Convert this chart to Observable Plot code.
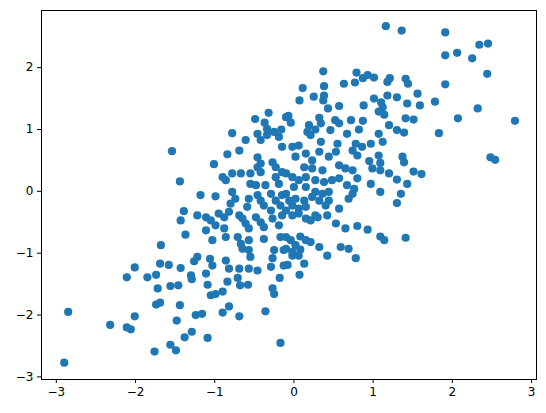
<!DOCTYPE html>
<html>
<head>
<meta charset="utf-8">
<script src="https://cdn.jsdelivr.net/npm/d3@7"></script>
<script src="https://cdn.jsdelivr.net/npm/@observablehq/plot@0.6"></script>
<style>
  html, body { margin: 0; padding: 0; background: #fff; }
  #chart { width: 546px; height: 413px; }
</style>
</head>
<body>
<div id="chart"></div>
<script>
const xValues = [
-2.01,-2.11,-1.85,-1.74,-1.69,-1.72,-1.74,-1.69,-2.85,-2.01,-2.32,-2.11,-2.06,-1.76,-2.90,
-1.68,-1.54,-1.44,-1.58,-1.43,-1.26,-1.22,-1.30,-1.29,-1.11,-1.06,-1.03,-0.86,-0.82,-0.69,
-0.57,-0.46,-0.55,-0.29,-0.27,-0.13,-0.18,-1.56,-1.46,-1.09,-0.84,-0.71,-0.68,-0.58,-0.27,
-0.25,-1.05,-0.99,-0.90,-1.44,-1.24,-1.16,-0.82,-0.90,-0.69,-0.36,-1.48,-1.38,-1.29,-1.09,
-1.56,-1.49,-0.17,-0.08,-0.02,0.06,0.13,0.07,0.42,0.78,
-0.78,-0.46,-0.42,-0.34,-0.25,-0.19,-0.61,-0.15,-0.84,-0.69,-0.46,-0.42,-0.46,-0.27,-0.23,
-1.01,-0.90,-0.86,-0.78,-0.67,-0.55,-0.42,-0.23,-0.15,-0.55,-0.48,-0.36,-0.19,-1.18,-0.99,
-0.78,-0.74,-0.57,-0.46,-0.42,-0.29,-0.23,-0.15,-0.80,-0.59,-0.38,-0.29,-0.17,-1.39,-1.43,
-1.22,-1.11,-1.05,-0.95,-0.88,-0.82,-0.69,-0.99,-0.88,-0.65,-0.61,-0.57,-0.48,-0.42,-0.38,
-0.27,-0.15,-0.19,-1.37,-1.11,-1.03,-0.86,-0.71,-0.67,-0.57,-0.38,-0.17,-0.65,-0.57,-0.25,
-0.13,
-0.49,-0.32,-0.37,-0.34,-0.10,-0.16,
1.16,1.36,0.37,0.79,0.93,0.87,1.01,0.63,0.77,1.21,1.18,1.41,1.44,0.11,0.38,0.38,0.25,0.37,
0.07,1.01,1.18,1.30,1.10,1.12,0.88,1.43,0.57,0.43,1.07,1.14,-0.07,-0.04,0.32,0.87,0.72,0.52,
1.41,0.19,0.34,0.57,1.20,1.30,1.39,0.17,0.46,0.67,0.82,1.07,0.27,
1.91,2.34,2.45,1.91,2.06,2.25,2.44,1.91,1.56,1.59,1.78,2.32,1.51,2.07,2.79,1.83,
2.48,2.54,1.51,1.61,
0.21,1.12,0.06,-0.02,0.34,0.55,0.78,0.86,0.97,0.74,0.80,1.07,1.37,1.39,0.95,1.09,0.02,0.15,
0.23,0.32,0.44,0.53,0.13,0.23,0.36,0.57,0.65,0.74,0.80,0.99,1.09,1.20,1.30,0.97,1.43,-0.10,
-0.02,0.06,0.15,0.27,0.38,0.48,0.57,0.67,0.00,0.15,0.27,0.36,0.44,0.76,0.74,1.09,1.35,-0.10,
-0.06,0.02,0.13,0.23,0.32,0.69,0.44,1.30,-0.02,0.06,0.15,0.40,0.57,-0.10,-0.02,0.06,0.15,
0.27,0.42,0.21,0.30,0.53,0.65,0.80,0.93,1.09,1.14,1.41,-0.10,-0.04,0.08,0.15,0.02,0.08,0.21,
0.32,-0.10,-0.02,0.59,0.69
];
const yValues = [
-1.23,-1.39,-1.39,-1.35,-1.17,-1.57,-1.83,-1.80,-1.95,-2.02,-2.16,-2.20,-2.23,-2.59,-2.77,
-0.87,0.65,0.16,-1.19,-1.24,-1.13,-1.06,-1.36,-1.42,-1.33,-1.09,-1.20,-1.12,-1.25,-1.25,
-1.25,-1.28,-1.06,-1.22,-1.08,-1.20,-1.40,-1.53,-1.52,-1.51,-1.46,-1.40,-1.52,-1.51,-1.57,
-1.66,-1.68,-1.66,-1.62,-1.84,-2.00,-1.98,-1.86,-1.96,-2.02,-1.94,-2.09,-2.36,-2.27,-2.37,
-2.48,-2.57,-2.45,-1.19,-1.04,-1.04,-1.17,-1.35,-1.04,-1.08,
0.94,0.93,0.83,0.91,0.96,0.88,0.83,0.72,0.60,0.66,0.55,0.45,0.39,0.47,0.39,
0.44,0.23,0.18,0.29,0.29,0.29,0.31,0.23,0.31,0.12,0.10,0.10,0.12,-0.06,-0.08,
-0.01,-0.12,-0.12,-0.06,-0.15,-0.04,-0.15,-0.06,-0.20,-0.25,-0.23,-0.31,-0.23,-0.32,-0.47,
-0.39,-0.42,-0.47,-0.36,-0.42,-0.33,-0.39,-0.55,-0.60,-0.44,-0.52,-0.60,-0.42,-0.50,-0.58,
-0.44,-0.39,-0.55,-0.70,-0.63,-0.79,-0.74,-0.74,-0.85,-0.79,-0.77,-0.74,-0.93,-0.95,-0.95,
-0.95,
1.17,1.27,1.11,1.01,1.20,1.00,
2.67,2.60,1.94,1.92,1.88,1.83,1.84,1.74,1.76,1.83,1.77,1.82,1.74,1.67,1.70,1.55,1.53,1.47,
1.47,1.50,1.55,1.52,1.44,1.36,1.39,1.42,1.38,1.34,1.29,1.24,1.22,1.11,1.19,1.14,1.15,1.15,
1.18,1.07,1.10,1.10,1.07,0.99,0.95,0.96,0.99,0.93,1.00,0.93,1.00,
2.57,2.37,2.39,2.20,2.24,2.15,1.90,1.73,1.58,1.39,1.45,1.34,1.16,1.18,1.14,0.94,
0.55,0.51,0.32,0.28,
0.91,0.80,0.74,0.72,0.80,0.77,0.77,0.72,0.77,0.66,0.58,0.58,0.56,0.47,0.49,0.46,0.56,0.61,
0.50,0.64,0.56,0.64,0.39,0.37,0.34,0.42,0.37,0.34,0.21,0.37,0.34,0.29,0.19,0.12,0.12,0.29,
0.23,0.18,0.23,0.18,0.15,0.18,0.21,0.10,0.07,0.07,-0.01,-0.04,-0.01,0.04,-0.04,-0.01,-0.04,-0.04,
-0.15,-0.12,-0.15,-0.09,-0.15,-0.12,-0.15,-0.19,-0.23,-0.28,-0.25,-0.23,-0.28,-0.31,-0.39,-0.36,-0.44,
-0.39,-0.39,-0.47,-0.42,-0.52,-0.60,-0.56,-0.62,-0.73,-0.79,-0.75,-0.74,-0.79,-0.73,-0.79,-0.87,-0.94,-0.82,
-0.90,-0.93,-0.98,-0.90,-0.93
];
const xTicks = [-3, -2, -1, 0, 1, 2, 3];
const yTicks = [-3, -2, -1, 0, 1, 2];

const points = xValues.map((x, i) => ({x, y: yValues[i]}));
const fmt = d3.format("d");

const chart = Plot.plot({
  width: 546,
  height: 413,
  marginLeft: 41,
  marginRight: 10,
  marginTop: 10,
  marginBottom: 34,
  style: {fontFamily: "DejaVu Sans", fontSize: "12px", color: "black", background: "white"},
  x: {domain: [-3.187, 3.062], nice: false},
  y: {domain: [-3.042, 2.924], nice: false},
  marks: [
    Plot.dot(points, {x: "x", y: "y", r: 4.1, fill: "#1f77b4", stroke: "none", fillOpacity: 1}),
    Plot.frame({stroke: "black", strokeWidth: 1}),
    Plot.axisX({ticks: xTicks, tickFormat: fmt, tickSize: 4, tickPadding: 4, label: null, stroke: "black"}),
    Plot.axisY({ticks: yTicks, tickFormat: fmt, tickSize: 4, tickPadding: 4, label: null, stroke: "black"})
  ]
});
document.getElementById("chart").appendChild(chart);
</script>
</body>
</html>
